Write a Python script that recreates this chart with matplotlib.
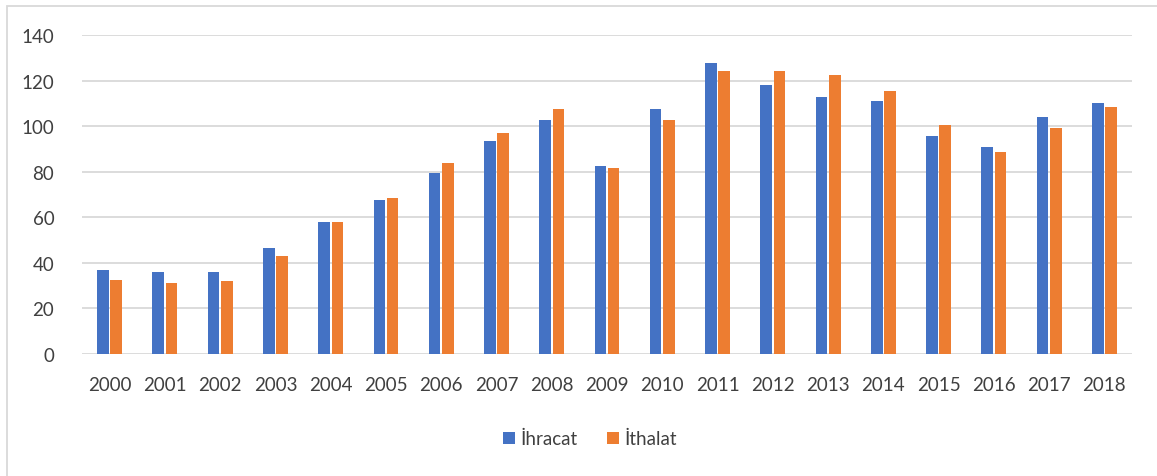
import numpy as np
import matplotlib
matplotlib.use("Agg")
import matplotlib.pyplot as plt
from matplotlib.patches import Rectangle

years = [str(y) for y in range(2000, 2019)]
ihracat = [37, 36, 36, 46.5, 58, 67.5, 79.5, 93.5, 102.5, 82.5, 107.5, 127.5, 118, 113, 111, 95.5, 91, 104, 110]
ithalat = [32.5, 31, 32, 43, 58, 68.5, 84, 97, 107.5, 81.5, 102.5, 124, 124, 122.5, 115.5, 100.5, 88.5, 99, 108.5]

BLUE = "#4472c4"
ORANGE = "#ed7d31"
TEXT = "#404040"

plt.rcParams["font.family"] = ["Lato", "DejaVu Sans"]

fig = plt.figure(figsize=(11.57, 4.77), dpi=100)
ax = fig.add_axes([0.0709, 0.2558, 0.9075, 0.6687])

x = np.arange(len(years))
w = 0.21
gap = 0.03
ax.bar(x - (w + gap) / 2, ihracat, w, color=BLUE, label="İhracat", zorder=3)
ax.bar(x + (w + gap) / 2, ithalat, w, color=ORANGE, label="İthalat", zorder=3)

ax.set_xlim(-0.5, len(years) - 0.5)
ax.set_ylim(0, 140)
ax.set_yticks(range(0, 141, 20))
ax.set_xticks(x)
ax.set_xticklabels(years)
ax.yaxis.grid(True, color="#d9d9d9", linewidth=1.3, zorder=0)
ax.set_axisbelow(True)
for s in ax.spines.values():
    s.set_visible(False)
ax.tick_params(length=0, colors=TEXT, labelsize=13.5)
ax.tick_params(axis="y", pad=20)
ax.tick_params(axis="x", pad=16)

fig.legend(loc="center", bbox_to_anchor=(0.51, 0.078), ncol=2, frameon=False,
           fontsize=13.5, handlelength=0.6, handleheight=0.6, handletextpad=0.3,
           columnspacing=1.6, labelcolor=TEXT)

# outer chart border
fig.patches.append(Rectangle((7 / 1157, -0.05), 1.2, 1 - 7 / 477 + 0.05,
                             transform=fig.transFigure, fill=False,
                             edgecolor="#d9d9d9", linewidth=1.3))

fig.savefig("out.png", dpi=100)
